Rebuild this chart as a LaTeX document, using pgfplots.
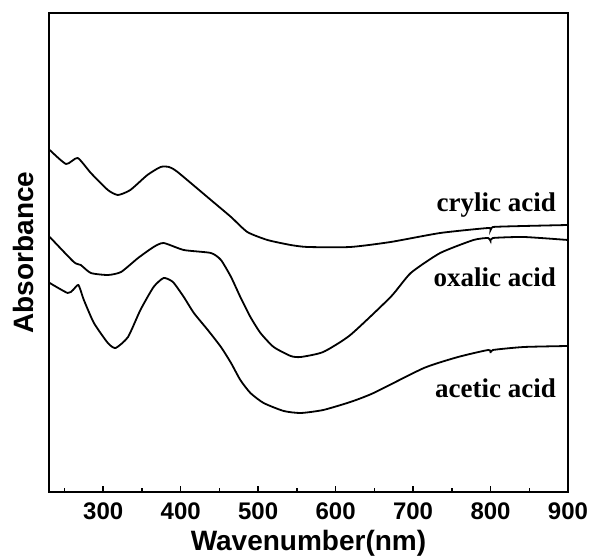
\documentclass[border=0pt]{standalone}
\usepackage{fontspec}
\setmainfont{Liberation Sans}
\newfontfamily\serifb{Liberation Serif}
\usepackage{pgfplots}
\pgfplotsset{compat=1.18}
\begin{document}
\begin{tikzpicture}
\begin{axis}[
  scale only axis, width=519bp, height=479bp,
  xmin=230, xmax=900, ymin=0, ymax=479,
  line width=2.6bp,
  xtick={300,400,...,900},
  minor xtick={250,350,...,850},
  ytick=\empty,
  tick align=inside,
  major tick length=6bp, minor tick length=4bp,
  major tick style={line width=1.6bp, black},
  minor tick style={line width=1.4bp, black},
  xtick pos=bottom,
  /pgf/number format/assume math mode=true,
  xticklabel style={font=\fontsize{24bp}{26bp}\selectfont\bfseries, inner sep=0pt, yshift=-9bp},
  xlabel={Wavenumber(nm)},
  xlabel style={font=\fontsize{28bp}{30bp}\selectfont\bfseries, at={(axis description cs:0.5,0)}, anchor=north, inner sep=0pt, yshift=-37bp},
  ylabel={Absorbance},
  ylabel style={font=\fontsize{28bp}{30bp}\selectfont\bfseries, at={(axis description cs:0,0.5)}, anchor=south, inner sep=0pt, yshift=14bp},
  clip=false,
]
% crylic acid
\addplot[black, no markers, line width=1.8bp, smooth, tension=0.35] coordinates {(231,342)(252,328)(267,334)(284,319)(306,302)(319,297)(335,302)(357,317)(374,325)(385,325)(396,320)(439,292)(465,275)(486,260)(512,252)(542,247)(564,245)(619,245)(671,250)(735,259)(797,264)(800,262)(803,265)(843,266)(900,267)};
% oxalic acid
\addplot[black, no markers, line width=1.8bp, smooth, tension=0.35] coordinates {(231,255)(262,230)(271,227)(284,219)(306,217)(323,220)(345,234)(365,245)(378,249)(404,242)(439,239)(452,232)(465,215)(477,195)(490,175)(503,159)(520,145)(542,136)(555,135)(584,140)(619,157)(671,195)(697,219)(735,239)(778,252)(797,254)(800,251)(803,254)(843,255)(900,252)};
% acetic acid
\addplot[black, no markers, line width=1.8bp, smooth, tension=0.35] coordinates {(231,209)(254,199)(261,202)(268,207)(275,192)(288,169)(306,149)(316,144)(332,155)(348,182)(365,205)(378,214)(390,210)(404,195)(417,179)(435,162)(452,145)(465,129)(477,112)(490,99)(507,89)(533,81)(555,79)(584,82)(619,90)(649,99)(714,124)(758,135)(797,142)(800,139)(803,142)(843,145)(900,146)};
\node[anchor=east, inner sep=0pt, font=\serifb\fontsize{27bp}{29bp}\selectfont\bfseries] at (axis cs:886,287) {crylic acid};
\node[anchor=east, inner sep=0pt, font=\serifb\fontsize{27bp}{29bp}\selectfont\bfseries] at (axis cs:886,215) {oxalic acid};
\node[anchor=east, inner sep=0pt, font=\serifb\fontsize{27bp}{29bp}\selectfont\bfseries] at (axis cs:886,104) {acetic acid};
\end{axis}
\path (current axis.south west) ++(-49bp,-62bp) rectangle ++(593bp,554bp);
\end{tikzpicture}
\end{document}
